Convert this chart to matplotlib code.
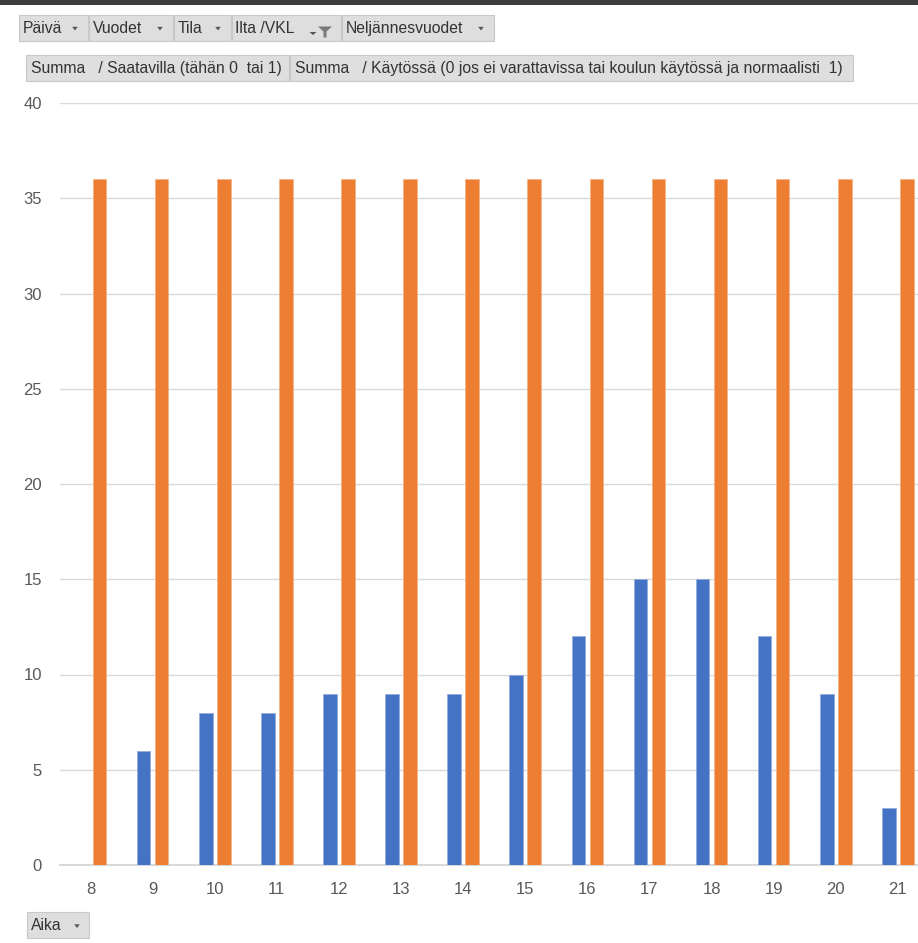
import matplotlib
matplotlib.use("Agg")
import matplotlib.pyplot as plt
from matplotlib.patches import Rectangle, Polygon
import numpy as np

# ---- data ----
hours = [8, 9, 10, 11, 12, 13, 14, 15, 16, 17, 18, 19, 20, 21]
saatavilla = [0, 6, 8, 8, 9, 9, 9, 10, 12, 15, 15, 12, 9, 3]
kaytossa = [36, 36, 36, 36, 36, 36, 36, 36, 36, 36, 36, 36, 36, 36]
yticks = [0, 5, 10, 15, 20, 25, 30, 35, 40]
filter_buttons = ["Päivä", "Vuodet", "Tila", "Ilta /VKL", "Neljännesvuodet"]
value_buttons = ["Summa   / Saatavilla (tähän 0  tai 1)",
                 "Summa   / Käytössä (0 jos ei varattavissa tai koulun käytössä ja normaalisti  1)"]
axis_button = "Aika"

W, H = 918, 943
FONT = ["Liberation Sans", "DejaVu Sans"]
plt.rcParams['font.family'] = FONT

fig = plt.figure(figsize=(W / 100, H / 100), dpi=100)
fig.patch.set_facecolor("white")

BLUE = "#4472C4"
ORANGE = "#ED7D31"
GRID = "#D9D9D9"
TXT = "#595959"

# ---- chart axes ----
ax_left, ax_right, ax_bottom, ax_top = 59.5, 918, 865, 103
ax = fig.add_axes([ax_left / W, 1 - ax_bottom / H, (ax_right - ax_left) / W, (ax_bottom - ax_top) / H])
x = np.array(hours, dtype=float)
bw = 0.22
off = 0.145
ax.bar(x - off, saatavilla, width=bw, color=BLUE, edgecolor="#8faadc", linewidth=0.5, zorder=3)
ax.bar(x + off, kaytossa, width=bw, color=ORANGE, edgecolor="#f4b183", linewidth=0.5, zorder=3)
ax.set_xlim(7.5, 7.5 + (ax_right - ax_left) / 62.1)
ax.set_ylim(0, 40)
ax.set_yticks(yticks)
ax.set_xticks(hours)
ax.set_xticklabels([str(h) for h in hours])
ax.yaxis.grid(True, color=GRID, linewidth=1.0, zorder=0)
ax.set_axisbelow(True)
for s in ["top", "right", "left"]:
    ax.spines[s].set_visible(False)
ax.spines["bottom"].set_color(GRID)
ax.spines["bottom"].set_linewidth(1.5)
ax.tick_params(axis="both", length=0, colors=TXT, labelsize=12)
ax.tick_params(axis="y", pad=12.6)
ax.tick_params(axis="x", pad=12)

# ---- helpers in pixel coordinates (origin top-left) ----
def px_rect(x0, y0, x1, y1, fc, ec="#c8c8c8", lw=0.8):
    r = Rectangle((x0 / W, 1 - y1 / H), (x1 - x0) / W, (y1 - y0) / H,
                  transform=fig.transFigure, facecolor=fc, edgecolor=ec, linewidth=lw)
    fig.add_artist(r)

def px_text(xp, yp, s, **kw):
    fig.text(xp / W, 1 - yp / H, s, **kw)

def px_poly(pts, color):
    p = Polygon([(px / W, 1 - py / H) for px, py in pts], closed=True,
                transform=fig.transFigure, facecolor=color, edgecolor="none")
    fig.add_artist(p)

def arrow(xc, yc, size=2.8, color="#555555"):
    px_poly([(xc - size, yc - size * 0.6), (xc + size, yc - size * 0.6), (xc, yc + size * 0.7)], color)

BTN = "#DEDEDE"
BTXT = "#333333"
BFS = 11.3

# top dark strip
px_rect(0, 0, W, 5, "#3c3c3c", ec="none", lw=0)

# row 1: field buttons
row1 = [(19, 88), (89, 173), (174, 231), (232, 341), (342, 494)]
for (x0, x1), lab in zip(row1, filter_buttons):
    px_rect(x0, 15, x1, 41, BTN)
    px_text(x0 + 3.5, 28.5, lab, fontsize=BFS, color=BTXT, va="center", ha="left")
    if lab.startswith("Ilta"):
        px_poly([(309.5, 32), (316.5, 32), (313, 35)], "#555555")
        px_poly([(318, 26.5), (332, 26.5), (326.5, 31.5), (326.5, 37.5),
                 (323.5, 37.5), (323.5, 31.5)], "#7a7a7a")
    else:
        arrow(x1 - 13, 28.5)

# row 2: value buttons
row2 = [(26, 289), (290, 853)]
for (x0, x1), lab in zip(row2, value_buttons):
    px_rect(x0, 55, x1, 81, BTN)
    px_text(x0 + 5, 68.5, lab, fontsize=BFS, color=BTXT, va="center", ha="left")

# axis button
px_rect(27, 912, 89, 938, BTN)
px_text(31, 926, axis_button, fontsize=BFS, color=BTXT, va="center", ha="left")
arrow(77, 926)

fig.savefig("out.png", dpi=100, facecolor="white")
